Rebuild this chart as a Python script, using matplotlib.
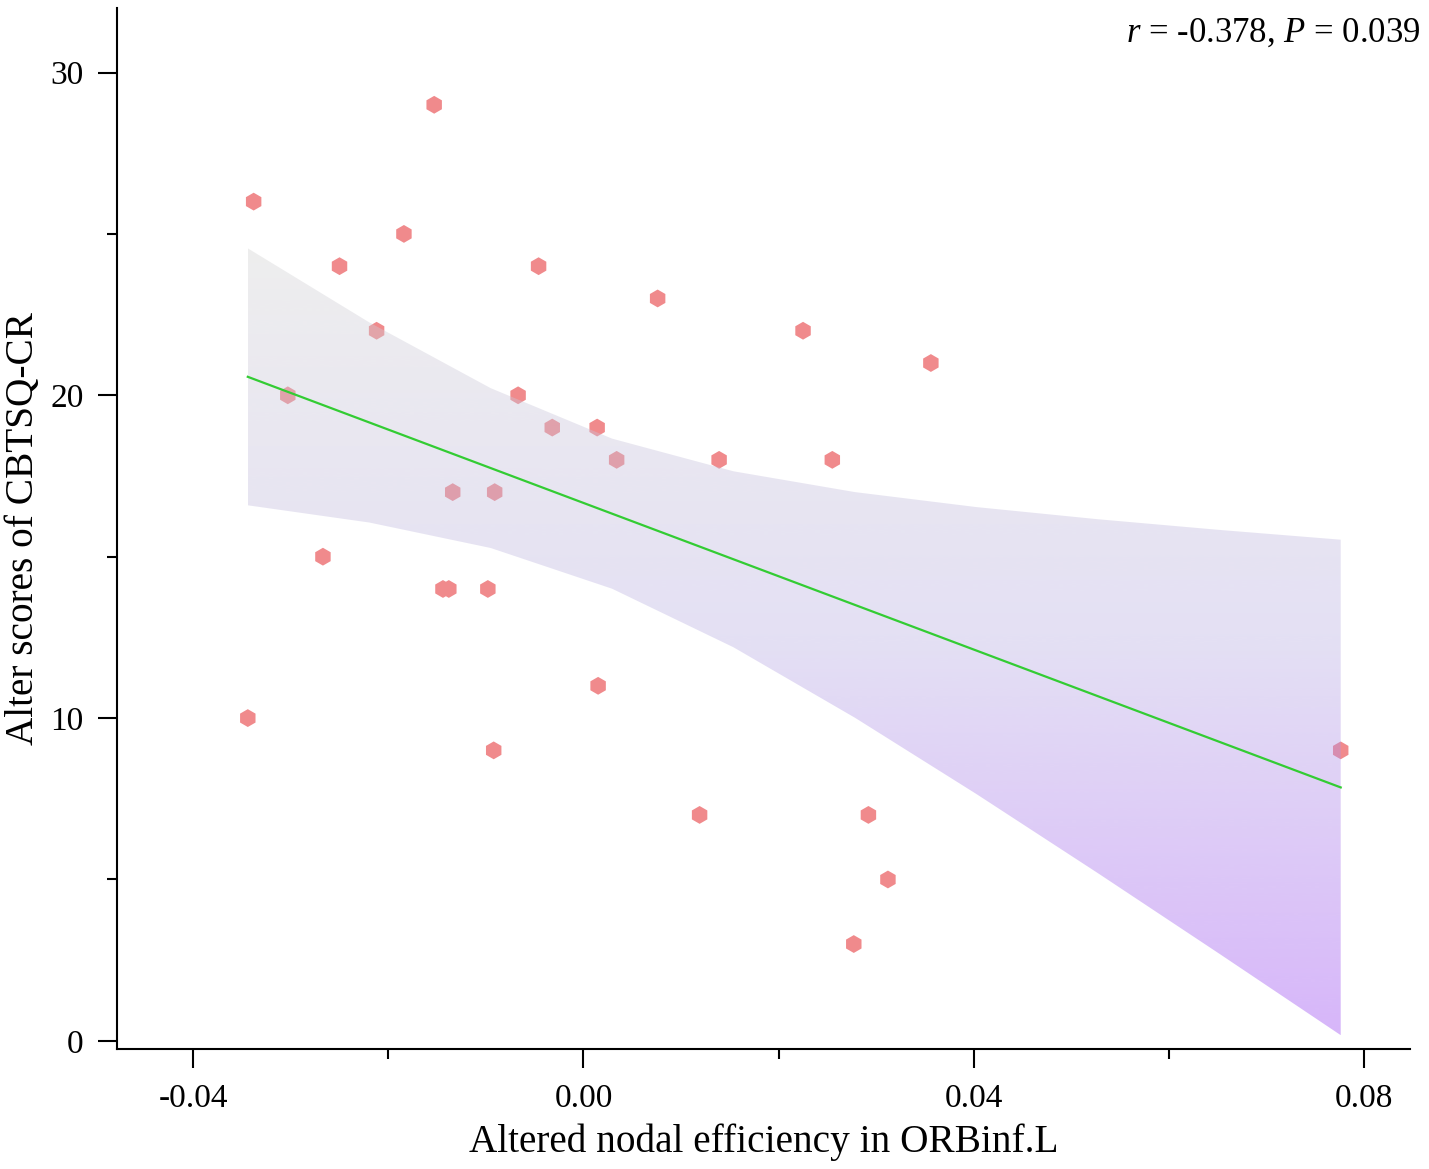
import numpy as np
import matplotlib
matplotlib.use("Agg")
import matplotlib.pyplot as plt
from matplotlib.ticker import MultipleLocator

plt.rcParams['font.family'] = ['Liberation Serif', 'DejaVu Serif']
plt.rcParams['mathtext.fontset'] = 'custom'
plt.rcParams['mathtext.rm'] = 'Liberation Serif'
plt.rcParams['mathtext.it'] = 'Liberation Serif:italic'

# nodal efficiency change vs. CBTSQ-CR score change
eff = [-0.0338, -0.0153, -0.0184, -0.0250, -0.0046, 0.0076, -0.0212, 0.0225,
       0.0356, -0.0303, -0.0067, -0.0032, 0.0014, 0.0034, 0.0139, 0.0255,
       -0.0134, -0.0091, -0.0267, -0.0144, -0.0138, -0.0098, 0.0015, -0.0344,
       -0.0092, 0.0776, 0.0119, 0.0292, 0.0312, 0.0277]
score = [26, 29, 25, 24, 24, 23, 22, 22,
         21, 20, 20, 19, 19, 18, 18, 18,
         17, 17, 15, 14, 14, 14, 11, 10,
         9, 9, 7, 7, 5, 3]
r_text = r'$\it{r}$ = -0.378, $\it{P}$ = 0.039'

x = np.array(eff)
y = np.array(score)
n = len(x)

# linear fit and 95% CI of the mean (t for df=28)
b, a = np.polyfit(x, y, 1)
resid = y - (a + b * x)
s = np.sqrt(np.sum(resid ** 2) / (n - 2))
t_crit = 2.048
xg = np.linspace(x.min(), x.max(), 10)
yg = a + b * xg
se = s * np.sqrt(1 / n + (xg - x.mean()) ** 2 / np.sum((x - x.mean()) ** 2))
lo = yg - t_crit * se
hi = yg + t_crit * se

fig = plt.figure(figsize=(14.29, 11.69), dpi=100)
ax = fig.add_axes([0.0819, 0.1027, 0.9048, 0.8905])

ax.scatter(x, y, marker='h', s=165, color='#f08a8c', edgecolors='none', zorder=2)

# gradient band (grey -> lavender -> violet), alpha 0.4, drawn over the points
alpha = 0.4
stops = np.array([[238, 238, 238], [228, 224, 244], [215, 182, 250]]) / 255
stops = (stops - (1 - alpha)) / alpha
ny = 256
tt = np.linspace(0, 1, ny)
rgb = np.stack([np.interp(tt, [0, 0.5, 1], stops[:, k]) for k in range(3)], axis=1)
img = np.zeros((ny, 1, 4))
img[:, 0, :3] = np.clip(rgb, 0, 1)
img[:, 0, 3] = alpha
poly = ax.fill_between(xg, lo, hi, facecolor='none', edgecolor='none', zorder=3)
im = ax.imshow(img, aspect='auto', origin='upper', zorder=3,
               extent=[x.min(), x.max(), lo.min(), hi.max()], interpolation='bilinear')
im.set_clip_path(poly.get_paths()[0], transform=ax.transData)

ax.plot(xg, yg, color='#33cc33', lw=1.6, zorder=4)

ax.set_xlim(-0.0478, 0.0847)
ax.set_ylim(-0.25, 32.0)
ax.xaxis.set_minor_locator(MultipleLocator(0.02))
ax.yaxis.set_major_locator(MultipleLocator(10))
ax.yaxis.set_minor_locator(MultipleLocator(5))
ax.set_xticks([-0.04, 0.0, 0.04, 0.08])
ax.set_xticklabels(['-0.04', '0.00', '0.04', '0.08'])

for sp in ['top', 'right']:
    ax.spines[sp].set_visible(False)
for sp in ['left', 'bottom']:
    ax.spines[sp].set_linewidth(1.5)
ax.tick_params(which='major', direction='out', length=14, width=1.5, labelsize=24)
ax.tick_params(which='minor', direction='out', length=7, width=1.5)
ax.tick_params(axis='x', which='major', pad=11)
ax.tick_params(axis='y', which='major', pad=10)

ax.set_xlabel('Altered nodal efficiency in ORBinf.L', fontsize=28.3, labelpad=7)
ax.set_ylabel('Alter scores of CBTSQ-CR', fontsize=28.3)
ax.yaxis.set_label_coords(-0.058, 0.5)

fig.text(1421 / 1429, 1 - 33 / 1169, r_text, fontsize=25, ha='right', va='center')

fig.savefig('out.png', dpi=100)
